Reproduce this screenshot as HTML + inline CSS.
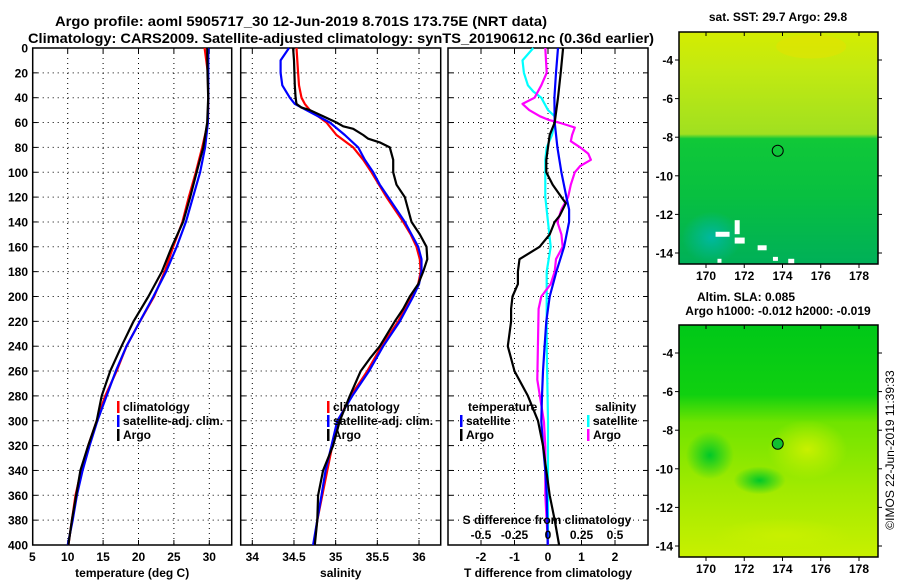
<!DOCTYPE html>
<html><head><meta charset="utf-8">
<style>
html,body{margin:0;padding:0;background:#fff;}
svg{display:block;font-family:"Liberation Sans",sans-serif;font-weight:bold;}
</style></head>
<body>
<svg id="fig" width="900" height="580" viewBox="0 0 900 580" xmlns="http://www.w3.org/2000/svg">
<rect width="900" height="580" fill="#fff"/>
<text x="301" y="26" font-size="14" text-anchor="middle" textLength="492" lengthAdjust="spacingAndGlyphs">Argo profile: aoml 5905717_30 12-Jun-2019 8.701S 173.75E (NRT data)</text>
<text x="341" y="43" font-size="14" text-anchor="middle" textLength="626" lengthAdjust="spacingAndGlyphs">Climatology: CARS2009. Satellite-adjusted climatology: synTS_20190612.nc (0.36d earlier)</text>
<g id="plots"></g>
<g id="maps"></g>
<text transform="translate(894,450) rotate(-90)" font-size="12" font-weight="normal" text-anchor="middle">©IMOS 22-Jun-2019 11:39:33</text>
</svg>
<script>
// ---- data ----
const depths = [0,20,40,60,80,100,120,140,160,180,200,220,240,260,280,300,320,340,360,380,400];
const tempClim = [29.34,29.8,29.85,29.8,29.0,28.1,27.1,26.2,24.9,23.7,22.2,20.2,18.3,16.9,15.3,14.1,12.9,11.9,11.1,10.6,10.1];
const tempSat  = [29.86,29.86,29.86,29.8,29.4,28.7,27.7,26.7,25.4,23.9,22.1,20.2,18.3,16.8,15.5,14.2,13.1,12.1,11.3,10.7,10.0];
const tempArgo = [29.7,29.75,29.85,29.7,29.15,28.2,27.3,26.3,24.7,23.3,21.4,19.3,17.6,16.0,14.8,14.1,12.9,11.8,11.2,10.6,10.1];
const salDepths = [0,10,20,30,40,45,50,60,70,80,90,100,110,120,140,150,160,170,180,190,200,220,240,260,280,300,320,340,360,380,400];
const salClim = [34.53,34.54,34.55,34.56,34.59,34.63,34.69,34.89,35.01,35.21,35.33,35.43,35.52,35.61,35.81,35.9,35.97,36.01,36.02,35.99,35.91,35.75,35.55,35.38,35.18,35.03,34.96,34.9,34.84,34.78,34.74];
const salSat  = [34.44,34.34,34.34,34.36,34.45,34.51,34.65,34.93,35.11,35.27,35.35,35.45,35.53,35.63,35.83,35.91,35.99,36.03,36.03,36.0,35.93,35.77,35.57,35.4,35.2,35.02,34.95,34.88,34.83,34.78,34.73];
const salArgoDepths = [0,10,30,40,45,48,50,55,60,63,65,70,73,76,80,90,100,110,120,140,150,160,170,180,190,200,210,220,240,250,260,280,300,320,340,360,380,400];
const salArgo = [34.49,34.5,34.51,34.52,34.53,34.59,34.69,34.85,35.01,35.09,35.21,35.33,35.39,35.53,35.65,35.69,35.69,35.73,35.83,35.91,36.01,36.09,36.1,36.05,35.99,35.89,35.81,35.71,35.53,35.41,35.3,35.17,35.05,34.97,34.85,34.79,34.78,34.75];
const dTDepths = [0,20,40,60,70,80,90,100,110,120,125,135,140,150,160,170,180,190,200,210,220,240,260,280,300,320,340,360,380,400];
const dTArgo = [0.45,0.38,0.3,0.2,0.05,0,-0.05,-0.05,0.14,0.4,0.53,0.35,0.2,0.05,-0.25,-0.85,-0.9,-0.9,-1.06,-1.1,-1.1,-1.2,-1.0,-0.6,-0.3,-0.15,-0.05,0.05,0.2,0.33];
const dTSatDepths = [0,20,40,60,80,100,120,130,140,160,180,200,220,240,260,280,300,320,340,360,380,400];
const dTSat = [0.3,0.24,0.19,0.2,0.28,0.4,0.55,0.63,0.63,0.48,0.25,0.05,-0.05,-0.1,-0.15,-0.18,-0.2,-0.15,-0.08,-0.04,-0.02,-0.01];
const dSSatDepths = [0,10,20,30,35,40,50,55,60,70,80,90,100,120,140,160,180,200,240,300,360,400];
const dSSat = [-0.11,-0.19,-0.18,-0.15,-0.11,-0.05,0,0.05,0.05,0.03,-0.01,-0.02,-0.02,-0.02,0,0.02,-0.01,-0.01,-0.01,0,0,0];
const dSArgoDepths = [0,20,30,40,45,50,55,58,60,62,64,70,75,80,85,90,95,100,110,120,130,140,150,160,170,180,190,200,210,267,301,321,360,400];
const dSArgo = [-0.02,-0.01,-0.05,-0.1,-0.19,-0.14,-0.06,0.01,0.08,0.14,0.2,0.18,0.17,0.24,0.3,0.32,0.24,0.2,0.17,0.15,0.1,0.07,0.1,0.11,0.06,0.05,0.02,-0.05,-0.07,-0.08,-0.03,-0.02,-0.02,0];
const depthTicks = [0,20,40,60,80,100,120,140,160,180,200,220,240,260,280,300,320,340,360,380,400];
const tempTicks = [5,10,15,20,25,30];
const salTicks = [34,34.5,35,35.5,36];
const tdTicks = [-2,-1,0,1,2];
const sdTicks = [-0.5,-0.25,0,0.25,0.5];
const sdTickLabels = ["-0.5","-0.25","0","0.25","0.5"];
const lonTicks = [170,172,174,176,178];
const latTicks = [-4,-6,-8,-10,-12,-14];
const argoLon = [173.75];
const argoLat = [-8.701];

const NS="http://www.w3.org/2000/svg";
function mk(tag,attrs,parent){const e=document.createElementNS(NS,tag);for(const k in attrs)e.setAttribute(k,attrs[k]);(parent||document.getElementById('plots')).appendChild(e);return e;}
const Y0=48, Y1=545;
function yD(d){return Y0+(d/400)*(Y1-Y0);}
function lin(d0,d1,r0,r1){return v=>r0+(v-d0)/(d1-d0)*(r1-r0);}

const xT = lin(5,30,32.3,209.3);
const xS = lin(34,36,252.3,419);
const xDT = lin(0,2,548,615);
const xDS = lin(0,0.5,548,615);

const P=document.getElementById('plots');
function panel(name,x0,x1,gx,ticks,xf,labels,axisTitle,leftLabels){
  const g=mk('g',{},P);
  
  
  depthTicks.forEach(d=>{ if(d>0&&d<400){
    const l=mk('line',{x1:x0,x2:x1,y1:yD(d),y2:yD(d),stroke:'#000','stroke-width':1,'stroke-dasharray':'1,4'},g);
    
    
    mk('line',{x1:x0,x2:x0+5,y1:yD(d),y2:yD(d),stroke:'#000'},g);
    mk('line',{x1:x1-5,x2:x1,y1:yD(d),y2:yD(d),stroke:'#000'},g);
  }});
  ticks.forEach((t,i)=>{
    const x=xf(t);
    if(x>x0+2&&x<x1-2){
      const l=mk('line',{x1:x,x2:x,y1:Y0,y2:Y1,stroke:'#000','stroke-width':1,'stroke-dasharray':'1,4'},g);
      
      
      mk('line',{x1:x,x2:x,y1:Y0,y2:Y0+5,stroke:'#000'},g);
      mk('line',{x1:x,x2:x,y1:Y1-5,y2:Y1,stroke:'#000'},g);
    }
    if(labels){
      const tx=mk('text',{x:x,y:561,'font-size':12,'text-anchor':'middle'},g);
      
      
      tx.textContent=labels[i];
    }
  });
  const r=mk('rect',{x:x0,y:Y0,width:x1-x0,height:Y1-Y0,fill:'none',stroke:'#000','stroke-width':1.5},g);
  
  
  const at=mk('text',{x:(x0+x1)/2,y:577,'font-size':12,'text-anchor':'middle'},g);
  
  
  at.textContent=axisTitle;
  if(leftLabels){
    depthTicks.forEach(d=>{
      const tx=mk('text',{x:28,y:yD(d)+4.5,'font-size':12,'text-anchor':'end'},g);
      
      
      tx.textContent=d;
    });
  }
  return g;
}
function series(g,name,xs,ds,xf,color){
  const pts=xs.map((v,i)=>xf(v).toFixed(1)+','+yD(ds[i]).toFixed(1)).join(' ');
  const p=mk('polyline',{points:pts,fill:'none',stroke:color,'stroke-width':2.2,'stroke-linejoin':'round'},g);
  
  
}
function legend(g,x,y,color,label,name){
  const b=mk('rect',{x:x,y:y-10,width:2.5,height:12,fill:color},g);
  
  
  const t=mk('text',{x:x+6,y:y,'font-size':12},g);
  
  
  t.textContent=label;
}

const g1=panel('temperature-panel',32.7,231.7,0,tempTicks,xT,tempTicks.map(String),'temperature (deg C)',true);
series(g1,'temp-climatology-line',tempClim,depths,xT,'#f00');
series(g1,'temp-satellite-line',tempSat,depths,xT,'#00f');
series(g1,'temp-argo-line',tempArgo,depths,xT,'#000');
legend(g1,117,411,'#f00','climatology','legend-climatology');
legend(g1,117,425,'#00f','satellite-adj. clim.','legend-satellite-adj');
legend(g1,117,439,'#000','Argo','legend-argo');

const g2=panel('salinity-panel',240.7,440.7,0,salTicks,xS,salTicks.map(String),'salinity',false);
series(g2,'sal-climatology-line',salClim,salDepths,xS,'#f00');
series(g2,'sal-satellite-line',salSat,salDepths,xS,'#00f');
series(g2,'sal-argo-line',salArgo,salArgoDepths,xS,'#000');
legend(g2,327,411,'#f00','climatology','legend-climatology');
legend(g2,327,425,'#00f','satellite-adj. clim.','legend-satellite-adj');
legend(g2,327,439,'#000','Argo','legend-argo');

const g3=panel('difference-panel',448,648,0,tdTicks,xDT,tdTicks.map(String),'T difference from climatology',false);
series(g3,'dS-satellite-line',dSSat,dSSatDepths,xDS,'#0ff');
series(g3,'dS-argo-line',dSArgo,dSArgoDepths,xDS,'#f0f');
series(g3,'dT-satellite-line',dTSat,dTSatDepths,xDT,'#00f');
series(g3,'dT-argo-line',dTArgo,dTDepths,xDT,'#000');
{
 const t=mk('text',{x:468,y:411,'font-size':12},g3);
 
 
 t.textContent='temperature';
 const s=mk('text',{x:595,y:411,'font-size':12},g3);
 
 
 s.textContent='salinity';
}
legend(g3,460,425,'#00f','satellite','legend-t-satellite');
legend(g3,460,439,'#000','Argo','legend-t-argo');
legend(g3,587,425,'#0ff','satellite','legend-s-satellite');
legend(g3,587,439,'#f0f','Argo','legend-s-argo');
{
 const t=mk('text',{x:547,y:524,'font-size':12,'text-anchor':'middle'},g3);
 
 
 t.textContent='S difference from climatology';
 sdTicks.forEach((v,i)=>{
   const tx=mk('text',{x:xDS(v),y:539,'font-size':12,'text-anchor':'middle'},g3);
   
   
   tx.textContent=sdTickLabels[i];
 });
}

// ---- maps ----
const M=document.getElementById('maps');
const defs=mk('defs',{},M);
defs.innerHTML=`
<linearGradient id="sst" x1="0" y1="0" x2="0" y2="1">
<stop offset="0" stop-color="#d4ec00"/><stop offset="0.15" stop-color="#c4ea10"/>
<stop offset="0.44" stop-color="#a0e020"/><stop offset="0.46" stop-color="#10c838"/>
<stop offset="0.7" stop-color="#08c040"/><stop offset="1" stop-color="#00b058"/></linearGradient>
<linearGradient id="sla" x1="0" y1="0" x2="0" y2="1">
<stop offset="0" stop-color="#00c818"/><stop offset="0.3" stop-color="#10d010"/>
<stop offset="0.42" stop-color="#70e400"/><stop offset="0.7" stop-color="#a0ea00"/>
<stop offset="1" stop-color="#c8f000"/></linearGradient>
<radialGradient id="slablob" cx="0.5" cy="0.5" r="0.5"><stop offset="0" stop-color="#c8f000"/><stop offset="1" stop-color="#c8f000" stop-opacity="0"/></radialGradient>
<radialGradient id="greenblob" cx="0.5" cy="0.5" r="0.5"><stop offset="0" stop-color="#00c828"/><stop offset="1" stop-color="#00c828" stop-opacity="0"/></radialGradient>
<radialGradient id="tealblob" cx="0.5" cy="0.5" r="0.5"><stop offset="0" stop-color="#00b8a0"/><stop offset="1" stop-color="#00b8a0" stop-opacity="0"/></radialGradient>`;
function mapPanel(name,top,fill,extras){
  const g=mk('g',{},M);
  
  
  const x0=679,x1=878,y0=top,y1=top+232;
  const lx=lin(170,178,706,859);
  const ly=lin(-4,-14,top+28,top+221);
  const bg=mk('rect',{x:x0,y:y0,width:x1-x0,height:y1-y0,fill:fill},g);
  
  
  extras(g,lx,ly);
  lonTicks.forEach(v=>{
    mk('line',{x1:lx(v),x2:lx(v),y1:y0,y2:y0+4,stroke:'#000'},g);
    mk('line',{x1:lx(v),x2:lx(v),y1:y1,y2:y1+4,stroke:'#000'},g);
    const t=mk('text',{x:lx(v),y:y1+16,'font-size':12,'text-anchor':'middle'},g);
    
    
    t.textContent=v;
  });
  latTicks.forEach(v=>{
    mk('line',{x1:x0-4,x2:x0,y1:ly(v),y2:ly(v),stroke:'#000'},g);
    mk('line',{x1:x1,x2:x1+4,y1:ly(v),y2:ly(v),stroke:'#000'},g);
    const t=mk('text',{x:x0-6,y:ly(v)+4.5,'font-size':12,'text-anchor':'end'},g);
    
    
    t.textContent=v;
  });
  const fr=mk('rect',{x:x0,y:y0,width:x1-x0,height:y1-y0,fill:'none',stroke:'#000','stroke-width':1.5},g);
  
  
  return {g,lx,ly};
}
const m1=mapPanel('sst-map',32,'url(#sst)',(g,lx,ly)=>{
  mk('ellipse',{cx:lx(170.3),cy:ly(-13.2),rx:30,ry:26,fill:'url(#tealblob)'},g);
  mk('ellipse',{cx:lx(175.5),cy:ly(-3.3),rx:35,ry:12,fill:'#e8e000',opacity:0.45},g);
  [[170.5,-12.9,14,5],[171.5,-12.3,5,14],[171.5,-13.2,10,6],[172.7,-13.6,9,5],[173.5,-14.2,5,4],[174.3,-14.3,6,5],[170.6,-14.3,4,4],[175.2,-14.7,6,4]].forEach(r=>{
    mk('rect',{x:lx(r[0]),y:ly(r[1]),width:r[2],height:r[3],fill:'#fff'},g);
  });
});
const m2=mapPanel('sla-map',325,'url(#sla)',(g,lx,ly)=>{
  mk('ellipse',{cx:lx(175.3),cy:ly(-9),rx:40,ry:30,fill:'url(#slablob)'},g);
  mk('ellipse',{cx:lx(170.2),cy:ly(-9.3),rx:24,ry:24,fill:'url(#greenblob)'},g);
  mk('ellipse',{cx:lx(172.8),cy:ly(-10.6),rx:26,ry:14,fill:'url(#greenblob)'},g);
  mk('ellipse',{cx:lx(174),cy:ly(-13.5),rx:70,ry:18,fill:'url(#slablob)'},g);
});
argoLon.forEach((lon,i)=>{
  const c1=mk('circle',{cx:m1.lx(lon),cy:m1.ly(argoLat[i]),r:5.5,fill:'none',stroke:'#000','stroke-width':1},m1.g);
  
  
  const c2=mk('circle',{cx:m2.lx(lon),cy:m2.ly(argoLat[i]),r:5.5,fill:'#10c030',stroke:'#000','stroke-width':1},m2.g);
  
  
});
[[778,21,'sat. SST: 29.7 Argo: 29.8','sst-map-title'],[746,301,'Altim. SLA: 0.085','sla-map-title'],[778,315,'Argo h1000: -0.012 h2000: -0.019','argo-height-title']].forEach(t=>{
  const e=mk('text',{x:t[0],y:t[1],'font-size':12,'text-anchor':'middle'},M);
  
  
  e.textContent=t[2];
});
</script>
</body></html>
